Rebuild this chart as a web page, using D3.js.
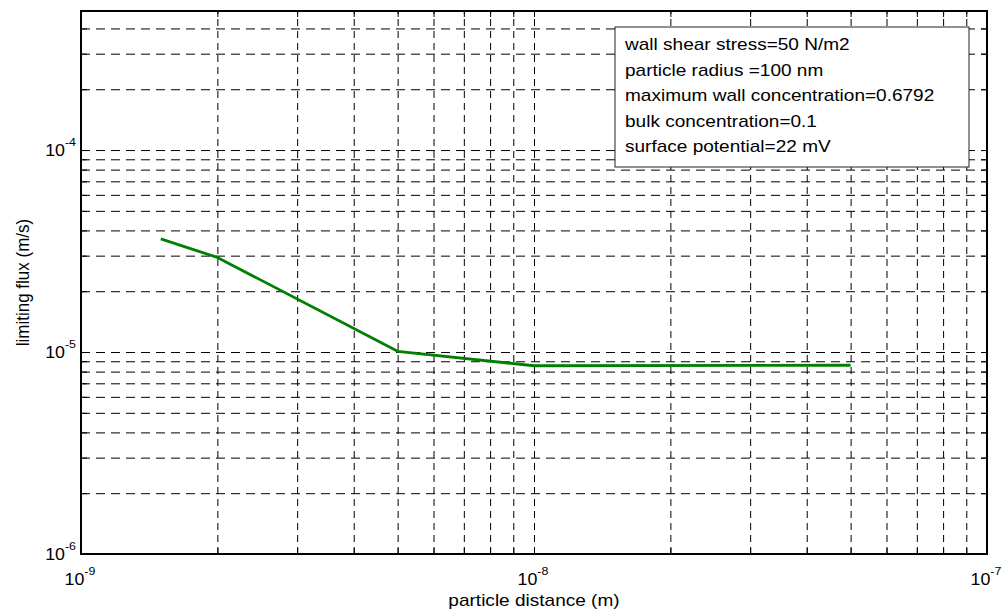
<!DOCTYPE html>
<html>
<head>
<meta charset="utf-8">
<script src="https://cdn.jsdelivr.net/npm/d3@7"></script>
<style>
  html, body { margin: 0; padding: 0; background: #fff; }
  svg { display: block; }
  text { font-family: "Liberation Sans", Arial, Helvetica, sans-serif; fill: #000; }
</style>
</head>
<body>
<svg id="chart" width="1002" height="612"></svg>
<script>
// ---- data ----
const distance = [1.5e-9, 2e-9, 5e-9, 1e-8, 5e-8];           // particle distance (m)
const flux     = [3.63e-5, 2.94e-5, 1.008e-5, 8.55e-6, 8.6e-6]; // limiting flux (m/s)
const xMajorTicks = [1e-9, 1e-8, 1e-7];
const xTickExps   = ["-9", "-8", "-7"];
const yMajorTicks = [1e-6, 1e-5, 1e-4];
const yTickExps   = ["-6", "-5", "-4"];
const xDomain = [1e-9, 1e-7];
const yDomain = [1e-6, 4.88e-4];
const legendLines = [
  "wall shear stress=50 N/m2",
  "particle radius =100 nm",
  "maximum wall concentration=0.6792",
  "bulk concentration=0.1",
  "surface potential=22 mV"
];
const xLabel = "particle distance (m)";
const yLabel = "limiting flux (m/s)";

// ---- layout ----
const L = 81, R = 987, T = 11, B = 554;
const SX = 1.12; // slight horizontal stretch of text as in the reference
const svg = d3.select("#chart");

const x = d3.scaleLog().domain(xDomain).range([L, R]);
const y = d3.scaleLog().domain(yDomain).range([B, T]);

function minorValues(domain) {
  const out = [];
  const lo = Math.floor(Math.log10(domain[0]));
  const hi = Math.ceil(Math.log10(domain[1]));
  for (let e = lo; e <= hi; e++) {
    for (let m = 1; m <= 9; m++) {
      const v = m * Math.pow(10, e);
      if (v >= domain[0] * 0.999999 && v <= domain[1] * 1.000001) out.push(v);
    }
  }
  return out;
}
const xGridVals = minorValues(xDomain);
const yGridVals = minorValues(yDomain);

// ---- grid ----
const gx = svg.append("g").attr("transform", `translate(0,${B})`)
  .call(d3.axisBottom(x).tickValues(xGridVals).tickSize(-(B - T)).tickFormat(""));
gx.select(".domain").remove();
gx.selectAll("line").attr("stroke", "#000").attr("stroke-width", 1).attr("stroke-dasharray", "7,5");

const gy = svg.append("g").attr("transform", `translate(${L},0)`)
  .call(d3.axisLeft(y).tickValues(yGridVals).tickSize(-(R - L)).tickFormat(""));
gy.select(".domain").remove();
gy.selectAll("line").attr("stroke", "#000").attr("stroke-width", 1).attr("stroke-dasharray", "9,6");

// ---- ticks (inside, all four sides) ----
const TK = 6;
function tickAxis(axis, tr) {
  const g = svg.append("g").attr("transform", tr).call(axis.tickFormat(""));
  g.select(".domain").remove();
  g.selectAll("line").attr("stroke", "#000").attr("stroke-width", 1);
}
tickAxis(d3.axisBottom(x).tickValues(xGridVals).tickSize(-TK), `translate(0,${B})`);
tickAxis(d3.axisTop(x).tickValues(xGridVals).tickSize(-TK), `translate(0,${T})`);
tickAxis(d3.axisLeft(y).tickValues(yGridVals).tickSize(-TK), `translate(${L},0)`);
tickAxis(d3.axisRight(y).tickValues(yGridVals).tickSize(-TK), `translate(${R},0)`);

// ---- data line ----
const line = d3.line().x((d, i) => x(distance[i])).y((d, i) => y(flux[i]));
svg.append("path").datum(flux)
  .attr("d", line)
  .attr("fill", "none")
  .attr("stroke", "#008000")
  .attr("stroke-width", 2.8)
  .attr("stroke-linejoin", "round");

// ---- box ----
svg.append("rect").attr("x", L).attr("y", T).attr("width", R - L).attr("height", B - T)
  .attr("fill", "none").attr("stroke", "#000").attr("stroke-width", 2);

// ---- tick labels ----
const TSX = 1.08;
function powLabel(g, exp, anchor) {
  const t = g.append("text").attr("text-anchor", anchor).attr("font-size", 16.5);
  t.append("tspan").text("10");
  t.append("tspan").attr("font-size", 11.5).attr("dy", -10).text(exp);
  return t;
}
xMajorTicks.forEach((v, i) => {
  const g = svg.append("g").attr("transform", `translate(${x(v) - 16.5},${585}) scale(${TSX},1)`);
  powLabel(g, xTickExps[i], "start");
});
yMajorTicks.forEach((v, i) => {
  const g = svg.append("g").attr("transform", `translate(${L - 5},${y(v) + 6}) scale(${TSX},1)`);
  powLabel(g, yTickExps[i], "end");
});

// ---- axis labels ----
svg.append("text")
  .attr("transform", `translate(${(L + R) / 2},${606}) scale(${SX},1)`)
  .attr("text-anchor", "middle").attr("font-size", 17).text(xLabel);
svg.append("text")
  .attr("transform", `translate(${29},${(T + B) / 2}) scale(${SX},1) rotate(-90)`)
  .attr("text-anchor", "middle").attr("font-size", 17).text(yLabel);

// ---- legend / annotation box ----
const lg = svg.append("g");
lg.append("rect").attr("x", 615).attr("y", 27).attr("width", 354).attr("height", 140)
  .attr("fill", "#fff").attr("stroke", "#222").attr("stroke-width", 1);
legendLines.forEach((s, i) => {
  lg.append("text")
    .attr("transform", `translate(625,${50 + i * 25.5}) scale(${SX},1)`)
    .attr("font-size", 17).text(s);
});
</script>
</body>
</html>
